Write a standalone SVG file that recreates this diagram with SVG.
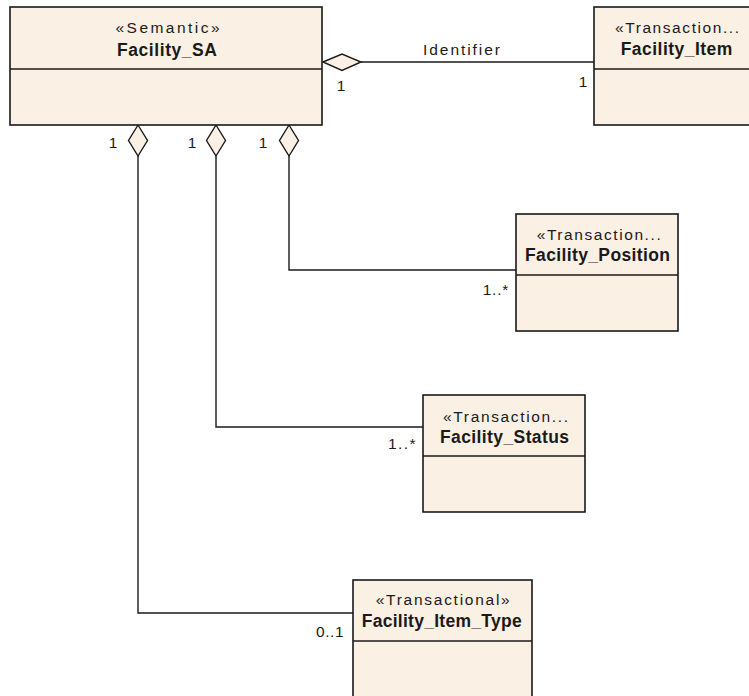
<svg xmlns="http://www.w3.org/2000/svg" width="749" height="696" viewBox="0 0 749 696">
<style>
.box{fill:#FAF0E4;stroke:#1a1a1a;stroke-width:1.6}
.sep{stroke:#1a1a1a;stroke-width:1.6}
.st{font-family:"Liberation Sans",Arial,sans-serif;font-size:15.5px;fill:#1a1a1a}
.nm{font-family:"Liberation Sans",Arial,sans-serif;font-size:17.5px;font-weight:bold;fill:#1a1a1a}
.lbl{font-family:"Liberation Sans",Arial,sans-serif;font-size:15.5px;fill:#1a1a1a}
.ln{fill:none;stroke:#1a1a1a;stroke-width:1.4}
.dia{fill:#FAF0E4;stroke:#1a1a1a;stroke-width:1.4}
</style>
<rect width="749" height="696" fill="#ffffff"/>
<g id="connectors">
  <line class="ln" x1="361" y1="62" x2="594" y2="62"/>
  <polygon class="dia" points="323,62 342,54 361,62 342,70.5"/>
  <polyline class="ln" points="138,156 138,613 353,613"/>
  <polygon class="dia" points="138,125 147.5,140.5 138,156 128.5,140.5"/>
  <polyline class="ln" points="216,156 216,427 423,427"/>
  <polygon class="dia" points="216,125 225.5,140.5 216,156 206.5,140.5"/>
  <polyline class="ln" points="289,156 289,270 516,270"/>
  <polygon class="dia" points="289,125 298.5,140.5 289,156 279.5,140.5"/>
  <text class="lbl" x="423" y="55" textLength="77" lengthAdjust="spacing">Identifier</text>
  <text class="lbl" x="341" y="90.5" text-anchor="middle">1</text>
  <text class="lbl" x="583" y="86.5" text-anchor="middle">1</text>
  <text class="lbl" x="113" y="147.5" text-anchor="middle">1</text>
  <text class="lbl" x="192" y="147.5" text-anchor="middle">1</text>
  <text class="lbl" x="263" y="147.5" text-anchor="middle">1</text>
  <text class="lbl" x="482.7" y="294.5" textLength="25.6" lengthAdjust="spacing">1..*</text>
  <text class="lbl" x="388" y="448.5" textLength="27.5" lengthAdjust="spacing">1..*</text>
  <text class="lbl" x="316" y="637" textLength="27.5" lengthAdjust="spacing">0..1</text>
</g>
<g id="Facility_SA">
  <rect class="box" x="10" y="7" width="312" height="118"/>
  <line class="sep" x1="10" y1="69" x2="322" y2="69"/>
  <text class="st" x="115.5" y="33" textLength="104" lengthAdjust="spacing">«Semantic»</text>
  <text class="nm" x="117" y="56" textLength="100" lengthAdjust="spacing">Facility_SA</text>
</g>
<g id="Facility_Item">
  <rect class="box" x="594" y="7" width="170" height="118"/>
  <line class="sep" x1="594" y1="69" x2="764" y2="69"/>
  <text class="st" x="615" y="33" textLength="124" lengthAdjust="spacing">«Transaction...</text>
  <text class="nm" x="620.7" y="55" textLength="111.6" lengthAdjust="spacing">Facility_Item</text>
</g>
<g id="Facility_Position">
  <rect class="box" x="516" y="214" width="162" height="117"/>
  <line class="sep" x1="516" y1="275" x2="678" y2="275"/>
  <text class="st" x="536.7" y="239.5" textLength="124" lengthAdjust="spacing">«Transaction...</text>
  <text class="nm" x="525" y="260.7" textLength="145" lengthAdjust="spacing">Facility_Position</text>
</g>
<g id="Facility_Status">
  <rect class="box" x="423" y="395" width="162" height="117"/>
  <line class="sep" x1="423" y1="456" x2="585" y2="456"/>
  <text class="st" x="443" y="421.7" textLength="125" lengthAdjust="spacing">«Transaction...</text>
  <text class="nm" x="440" y="442.5" textLength="129" lengthAdjust="spacing">Facility_Status</text>
</g>
<g id="Facility_Item_Type">
  <rect class="box" x="353" y="580" width="179" height="130"/>
  <line class="sep" x1="353" y1="641" x2="532" y2="641"/>
  <text class="st" x="375.7" y="605" textLength="134" lengthAdjust="spacing">«Transactional»</text>
  <text class="nm" x="361.7" y="627.3" textLength="160" lengthAdjust="spacing">Facility_Item_Type</text>
</g>
</svg>
